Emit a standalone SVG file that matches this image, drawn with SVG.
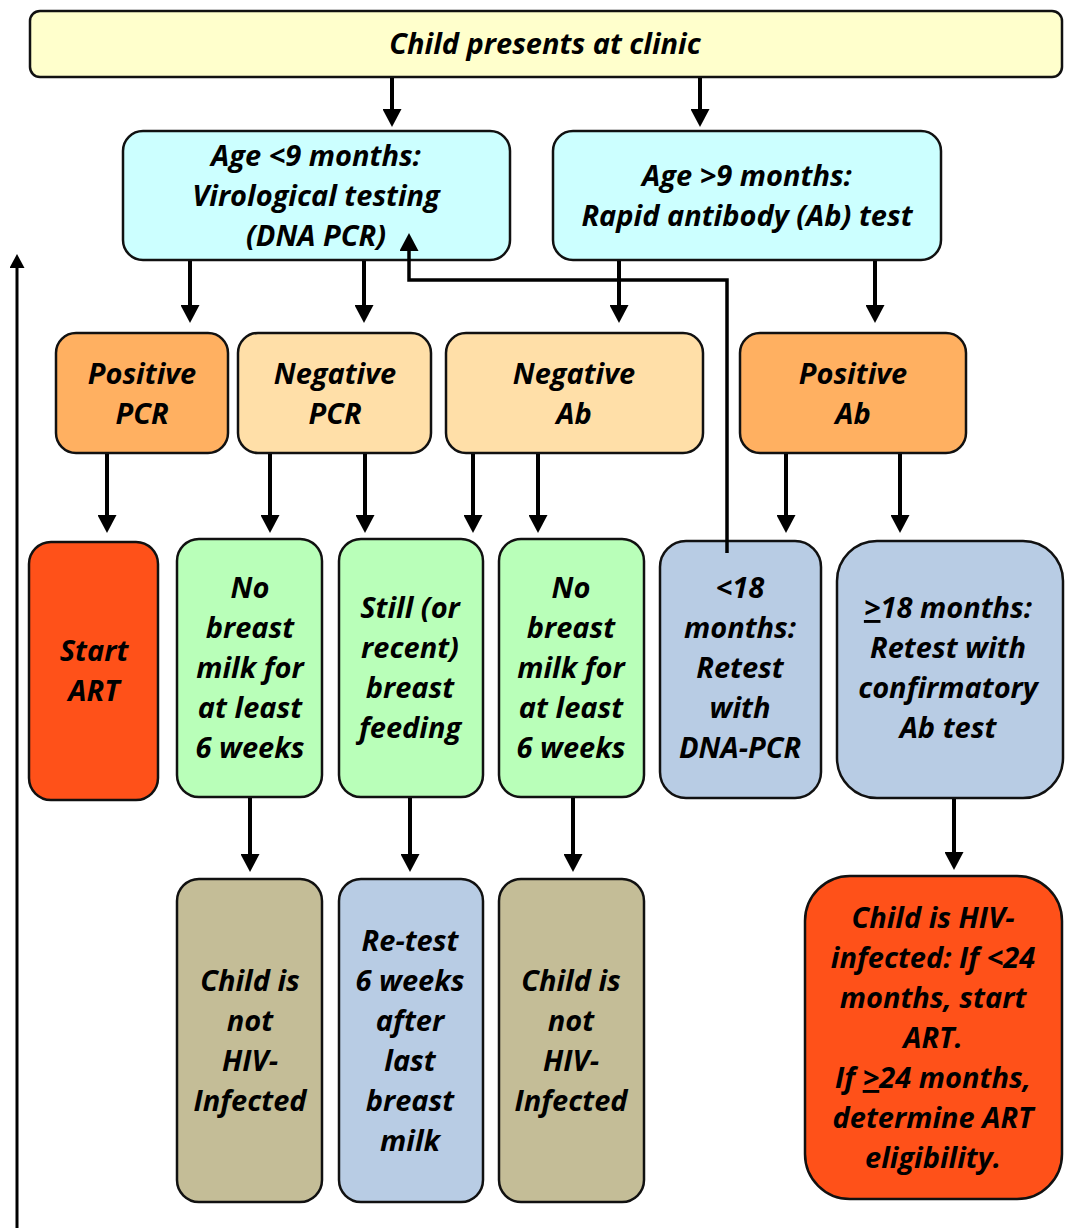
<svg xmlns="http://www.w3.org/2000/svg" width="1066" height="1228" viewBox="0 0 1066 1228">
<defs>
<style>
.n{stroke:#111;stroke-width:2.5}
.t{font-family:"Open Sans","Liberation Sans",sans-serif;font-weight:700;font-style:italic;font-size:29px;text-anchor:middle;fill:#000}
.c{stroke:#000;stroke-width:4;fill:none;marker-end:url(#ah)}
.yel{fill:#FFFFCC}.cy{fill:#CCFFFF}.or{fill:#FFB061}.pe{fill:#FFDFA8}.gr{fill:#B9FFB9}.bl{fill:#B8CCE4}.tan{fill:#C4BD97}.red{fill:#FF5119}
</style>
<marker id="ah" markerUnits="userSpaceOnUse" markerWidth="18" markerHeight="19" refX="4" refY="9.5" orient="auto"><path d="M0,0 L18,9.5 L0,19 z" fill="#000"/></marker>
<marker id="ahs" markerUnits="userSpaceOnUse" markerWidth="15" markerHeight="15" refX="3" refY="7.5" orient="auto"><path d="M0,0 L14,7.5 L0,15 z" fill="#000"/></marker>
</defs>
<rect width="1066" height="1228" fill="#fff"/>
<g id="n-clinic"><rect class="n yel" x="30" y="11" width="1032" height="66" rx="10"/><text class="t" x="545" y="54">Child presents at clinic</text></g>
<g id="n-age-lt9"><rect class="n cy" x="123" y="131" width="387" height="129" rx="20"/><text class="t" x="316" y="166">Age &lt;9 months:</text><text class="t" x="316" y="206">Virological testing</text><text class="t" x="316" y="246">(DNA PCR)</text></g>
<g id="n-age-gt9"><rect class="n cy" x="553" y="131" width="388" height="129" rx="20"/><text class="t" x="747" y="186">Age &gt;9 months:</text><text class="t" x="747" y="226">Rapid antibody (Ab) test</text></g>
<g id="n-pos-pcr"><rect class="n or" x="56" y="333" width="172" height="120" rx="20"/><text class="t" x="142" y="384">Positive</text><text class="t" x="142" y="424">PCR</text></g>
<g id="n-neg-pcr"><rect class="n pe" x="238" y="333" width="193" height="120" rx="20"/><text class="t" x="335" y="384">Negative</text><text class="t" x="335" y="424">PCR</text></g>
<g id="n-neg-ab"><rect class="n pe" x="446" y="333" width="257" height="120" rx="20"/><text class="t" x="574" y="384">Negative</text><text class="t" x="574" y="424">Ab</text></g>
<g id="n-pos-ab"><rect class="n or" x="740" y="333" width="226" height="120" rx="20"/><text class="t" x="853" y="384">Positive</text><text class="t" x="853" y="424">Ab</text></g>
<g id="n-start-art"><rect class="n red" x="29" y="542" width="129" height="258" rx="22"/><text class="t" x="94" y="661">Start</text><text class="t" x="94" y="701">ART</text></g>
<g id="n-nobm1"><rect class="n gr" x="177" y="539" width="145" height="258" rx="22"/><text class="t" x="250" y="598">No</text><text class="t" x="250" y="638">breast</text><text class="t" x="250" y="678">milk for</text><text class="t" x="250" y="718">at least</text><text class="t" x="250" y="758">6 weeks</text></g>
<g id="n-still-bf"><rect class="n gr" x="339" y="539" width="144" height="258" rx="22"/><text class="t" x="410" y="618">Still (or</text><text class="t" x="410" y="658">recent)</text><text class="t" x="410" y="698">breast</text><text class="t" x="410" y="738">feeding</text></g>
<g id="n-nobm2"><rect class="n gr" x="499" y="539" width="145" height="258" rx="22"/><text class="t" x="571" y="598">No</text><text class="t" x="571" y="638">breast</text><text class="t" x="571" y="678">milk for</text><text class="t" x="571" y="718">at least</text><text class="t" x="571" y="758">6 weeks</text></g>
<g id="n-lt18"><rect class="n bl" x="660" y="541" width="161" height="257" rx="26"/><text class="t" x="740" y="598">&lt;18</text><text class="t" x="740" y="638">months:</text><text class="t" x="740" y="678">Retest</text><text class="t" x="740" y="718">with</text><text class="t" x="740" y="758">DNA-PCR</text></g>
<g id="n-ge18"><rect class="n bl" x="837" y="541" width="226" height="257" rx="40"/><text class="t" x="948" y="618"><tspan text-decoration="underline">&gt;</tspan>18 months:</text><text class="t" x="948" y="658">Retest with</text><text class="t" x="948" y="698">confirmatory</text><text class="t" x="948" y="738">Ab test</text></g>
<g id="n-notinf1"><rect class="n tan" x="177" y="879" width="145" height="323" rx="22"/><text class="t" x="250" y="991">Child is</text><text class="t" x="250" y="1031">not</text><text class="t" x="250" y="1071">HIV-</text><text class="t" x="250" y="1111">Infected</text></g>
<g id="n-retest"><rect class="n bl" x="339" y="879" width="144" height="323" rx="22"/><text class="t" x="410" y="951">Re-test</text><text class="t" x="410" y="991">6 weeks</text><text class="t" x="410" y="1031">after</text><text class="t" x="410" y="1071">last</text><text class="t" x="410" y="1111">breast</text><text class="t" x="410" y="1151">milk</text></g>
<g id="n-notinf2"><rect class="n tan" x="499" y="879" width="145" height="323" rx="22"/><text class="t" x="571" y="991">Child is</text><text class="t" x="571" y="1031">not</text><text class="t" x="571" y="1071">HIV-</text><text class="t" x="571" y="1111">Infected</text></g>
<g id="n-infected"><rect class="n red" x="805" y="876" width="257" height="323" rx="45"/><text class="t" x="933" y="928">Child is HIV-</text><text class="t" x="933" y="968">infected: If &lt;24</text><text class="t" x="933" y="1008">months, start</text><text class="t" x="933" y="1048">ART.</text><text class="t" x="933" y="1088">If <tspan text-decoration="underline">&gt;</tspan>24 months,</text><text class="t" x="933" y="1128">determine ART</text><text class="t" x="933" y="1168">eligibility.</text></g>
<g id="connectors">
<path class="c" d="M392,78 V113"/>
<path class="c" d="M700,78 V113"/>
<path class="c" d="M190,261 V309"/>
<path class="c" d="M364,261 V309"/>
<path class="c" d="M619,261 V309"/>
<path class="c" d="M875,261 V309"/>
<path class="c" d="M107,454 V519"/>
<path class="c" d="M270,454 V519"/>
<path class="c" d="M365,454 V519"/>
<path class="c" d="M473,454 V519"/>
<path class="c" d="M538,454 V519"/>
<path class="c" d="M786,454 V519"/>
<path class="c" d="M900,454 V519"/>
<path class="c" d="M250,798 V858"/>
<path class="c" d="M410,798 V858"/>
<path class="c" d="M573,798 V858"/>
<path class="c" d="M954,799 V856"/>
<path class="c" style="stroke-width:3.5" d="M727,553 V280 H409 V247"/>
<path class="c" style="stroke-width:3;marker-end:url(#ahs)" d="M17,1228 V265"/>
</g>
</svg>
